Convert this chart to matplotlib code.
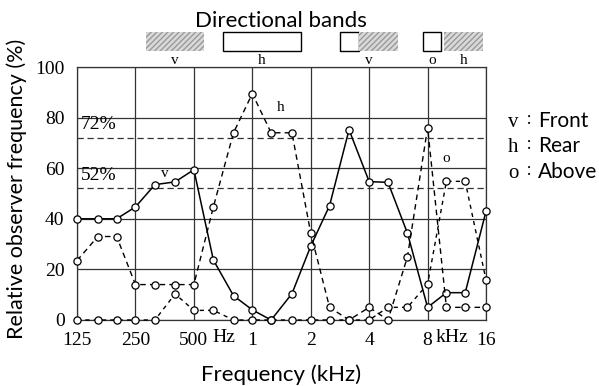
import matplotlib.pyplot as plt
from matplotlib.patches import Rectangle
import matplotlib.transforms as mtransforms

# third-octave band centres (Hz)
freqs = [125, 160, 200, 250, 315, 400, 500, 630, 800, 1000, 1250, 1600,
         2000, 2500, 3150, 4000, 5000, 6300, 8000, 10000, 12500, 16000]

# relative observer frequency (%)
front = [40, 40, 40, 44.7, 53.5, 54.6, 59.4, 23.7, 9.6, 4, 0, 10.4,
         29.2, 45.2, 75.2, 54.7, 54.4, 34.3, 5, 10.8, 10.8, 43]
rear = [23.5, 33, 33, 14, 14, 14, 14, 44.7, 74, 89.5, 74, 74,
        34.3, 5, 0, 5, 0, 25, 76, 5, 5, 5]
above = [0, 0, 0, 0, 0, 10.3, 3.8, 3.8, 0, 0, 0, 0,
         0, 0, 0, 0, 5, 5, 14.2, 54.8, 54.8, 15.8]

tick_freqs = [125, 250, 500, 1000, 2000, 4000, 8000, 16000]
tick_labels = ['125', '250', '500', '1', '2', '4', '8', '16']

# directional bands drawn above the plot
band_lo = [282, 707, 2820, 3550, 7600, 9750]
band_hi = [562, 1780, 3550, 5600, 9370, 15500]
band_hatched = [True, False, False, True, False, True]
band_letters = ['v', 'h', 'v', 'o', 'h']
band_letter_x = [400, 1120, 4000, 8450, 12200]

serif = 'Liberation Serif'
sans = 'Lato'

fig = plt.figure(figsize=(5.99, 3.86), dpi=100)
ax = fig.add_axes([0.1286, 0.171, 0.6828, 0.6554])

ax.set_xscale('log', base=2)
ax.set_xlim(125, 16000)
ax.set_ylim(0, 100)

ax.set_xticks(tick_freqs)
ax.set_xticklabels(tick_labels, fontfamily=serif, fontsize=14)
ax.set_yticks([0, 20, 40, 60, 80, 100])
ax.set_yticklabels(['0', '20', '40', '60', '80', '100'], fontfamily=serif, fontsize=14)
ax.xaxis.set_minor_locator(plt.NullLocator())
ax.tick_params(axis='y', length=0, pad=9)
ax.tick_params(axis='x', length=0, pad=9)
ax.grid(True, color='#333333', lw=0.9)
ax.set_axisbelow(True)
for s in ax.spines.values():
    s.set_color('#333333')
    s.set_linewidth(0.9)

ax.annotate('Hz', (500, 0), xycoords=('data', 'axes fraction'), xytext=(13, -6.5),
            textcoords='offset points', ha='left', va='top', fontfamily=serif, fontsize=14)
ax.annotate('kHz', (8000, 0), xycoords=('data', 'axes fraction'), xytext=(6, -6.5),
            textcoords='offset points', ha='left', va='top', fontfamily=serif, fontsize=14)

# reference levels
for lvl in [72, 52]:
    ax.axhline(lvl, color='#333333', lw=0.9, ls=(0, (5, 3)))
    ax.text(131, lvl + 1.8, f'{lvl}%', fontfamily=serif, fontsize=14, va='bottom')

mk = dict(marker='o', ms=5.2, mfc='white', mec='black', mew=0.9, color='black', clip_on=False, zorder=5)
ax.plot(freqs, front, lw=1.1, **mk)
ax.plot(freqs, rear, lw=1.0, ls=(0, (4, 3)), **mk)
ax.plot(freqs, above, lw=1.0, ls=(0, (3, 3)), **mk)

ax.text(354, 58, 'v', fontfamily=serif, fontsize=11, ha='center', va='center')
ax.text(1400, 84, 'h', fontfamily=serif, fontsize=11, ha='center', va='center')
ax.text(9980, 64, 'o', fontfamily=serif, fontsize=11, ha='center', va='center')

trans = mtransforms.blended_transform_factory(ax.transData, ax.transAxes)
for lo, hi, hat in zip(band_lo, band_hi, band_hatched):
    if hat:
        r = Rectangle((lo, 1.063), hi - lo, 0.075, transform=trans, clip_on=False,
                      facecolor='#d9d9d9', edgecolor='#9a9a9a', hatch='//////', lw=0.0)
    else:
        r = Rectangle((lo, 1.063), hi - lo, 0.075, transform=trans, clip_on=False,
                      facecolor='white', edgecolor='black', lw=1.0)
    ax.add_patch(r)
for letter, x in zip(band_letters, band_letter_x):
    ax.text(x, 1.024, letter, transform=trans, fontfamily=serif, fontsize=11,
            ha='center', va='center')

fig.text(0.469, 0.931, 'Directional bands', fontfamily=sans, fontsize=16, ha='center', va='baseline')

fig.text(0.469, 0.013, 'Frequency (kHz)', fontfamily=sans, fontsize=16, ha='center', va='baseline')
fig.text(0.028, 0.51, 'Relative observer frequency (%)', fontfamily=sans, fontsize=15.5,
         rotation=90, ha='center', va='center')

# legend key on the right
for i, (k, name) in enumerate([('v', 'Front'), ('h', 'Rear'), ('o', 'Above')]):
    y = [0.672, 0.606, 0.539][i]
    fig.text(0.848, y, k, fontfamily=serif, fontsize=15, ha='left', va='baseline')
    fig.text(0.879, y + 0.008, ':', fontfamily=sans, fontsize=12, ha='left', va='baseline')
    fig.text(0.898, y, name, fontfamily=sans, fontsize=15, ha='left', va='baseline')

fig.savefig('out.png', dpi=100)
